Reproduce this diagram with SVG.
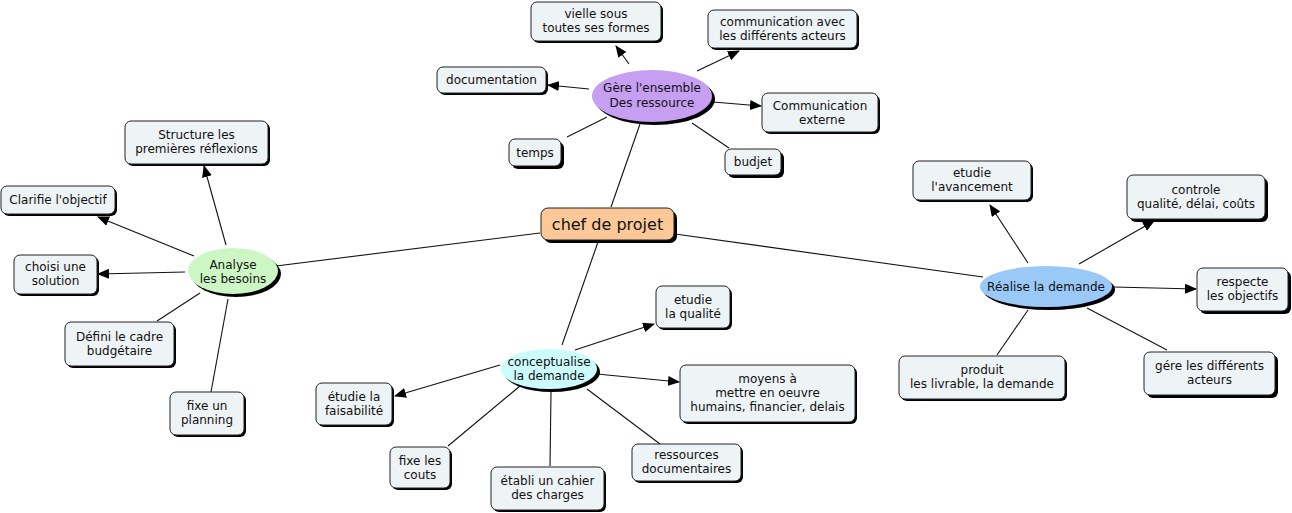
<svg xmlns="http://www.w3.org/2000/svg" width="1292" height="513" viewBox="0 0 1292 513">
<defs>
<marker id="arr" markerWidth="12" markerHeight="10" refX="11" refY="5" orient="auto" markerUnits="userSpaceOnUse">
<path d="M0,0 L12,5 L0,10 Z" fill="#000"/>
</marker>
<style>
.box{fill:#eef3f5;stroke:#222;stroke-width:1}
.sh{fill:#000}
.t{font-family:"DejaVu Sans",Verdana,sans-serif;font-size:12px;fill:#111;text-anchor:middle}
.big{font-size:16px}
.c{stroke:#111;stroke-width:1.1;fill:none}
.a{marker-end:url(#arr)}
.el{stroke:none}
</style>
</defs>
<rect width="1292" height="513" fill="#fff"/>
<g id="connectors">
<line class="c" x1="611" y1="207" x2="640" y2="124"/>
<line class="c" x1="540" y1="233" x2="276" y2="266"/>
<line class="c" x1="598" y1="242" x2="562" y2="345"/>
<line class="c" x1="675" y1="234" x2="983" y2="277"/>
<line class="c a" x1="629" y1="64" x2="616" y2="46"/>
<line class="c a" x1="697" y1="71" x2="739" y2="51"/>
<line class="c a" x1="589" y1="89" x2="548" y2="85"/>
<line class="c a" x1="713" y1="102" x2="761" y2="106"/>
<line class="c" x1="607" y1="117" x2="567" y2="137"/>
<line class="c" x1="692" y1="123" x2="729" y2="148"/>
<line class="c a" x1="226" y1="245" x2="204" y2="166"/>
<line class="c a" x1="194" y1="256" x2="98" y2="217"/>
<line class="c a" x1="185" y1="272" x2="98" y2="274"/>
<line class="c" x1="200" y1="293" x2="157" y2="321"/>
<line class="c" x1="228" y1="299" x2="211" y2="392"/>
<line class="c a" x1="575" y1="350" x2="654" y2="324"/>
<line class="c a" x1="597" y1="374" x2="679" y2="382"/>
<line class="c a" x1="500" y1="365" x2="395" y2="396"/>
<line class="c" x1="520" y1="386" x2="448" y2="446"/>
<line class="c" x1="551" y1="392" x2="550" y2="466"/>
<line class="c" x1="587" y1="389" x2="660" y2="444"/>
<line class="c a" x1="1028" y1="263" x2="990" y2="205"/>
<line class="c a" x1="1079" y1="264" x2="1154" y2="221"/>
<line class="c a" x1="1113" y1="287" x2="1196" y2="289"/>
<line class="c" x1="1087" y1="308" x2="1167" y2="350"/>
<line class="c" x1="1028" y1="310" x2="997" y2="355"/>
</g>
<g id="chef">
<rect class="sh" x="544" y="211" width="133" height="32" rx="7"/>
<rect x="541" y="208" width="133" height="32" rx="7" fill="#fcc898" stroke="#222"/>
<text class="t big" x="607.5" y="230">chef de projet</text>
</g>
<g id="gere">
<ellipse class="sh" cx="655" cy="99" rx="60" ry="26"/>
<ellipse class="el" cx="652" cy="96" rx="60" ry="26" fill="#c69ff3"/>
<text class="t" x="652" y="92">Gère l'ensemble</text>
<text class="t" x="652" y="107">Des ressource</text>
</g>
<g id="analyse">
<ellipse class="sh" cx="236" cy="274" rx="45" ry="23"/>
<ellipse class="el" cx="233" cy="271" rx="45" ry="23" fill="#ccf7c4"/>
<text class="t" x="233" y="269">Analyse</text>
<text class="t" x="233" y="283">les besoins</text>
</g>
<g id="concept">
<ellipse class="sh" cx="552" cy="372" rx="48" ry="20"/>
<ellipse class="el" cx="549" cy="369" rx="48" ry="20" fill="#ccfbfc"/>
<text class="t" x="549" y="366">conceptualise</text>
<text class="t" x="549" y="380">la demande</text>
</g>
<g id="realise">
<ellipse class="sh" cx="1049" cy="289.5" rx="66" ry="20.5"/>
<ellipse class="el" cx="1046" cy="286.5" rx="66" ry="20.5" fill="#9ac9f8"/>
<text class="t" x="1046" y="291">Réalise la demande</text>
</g>
<g id="vielle">
<rect class="sh" x="533" y="4" width="130" height="39" rx="6"/>
<rect class="box" x="531" y="2" width="130" height="39" rx="6"/>
<text class="t" x="596" y="18">vielle sous</text>
<text class="t" x="596" y="32">toutes ses formes</text>
</g>
<g id="commavec">
<rect class="sh" x="710" y="12" width="149" height="38" rx="6"/>
<rect class="box" x="708" y="10" width="149" height="38" rx="6"/>
<text class="t" x="782.5" y="26">communication avec</text>
<text class="t" x="782.5" y="40">les différents acteurs</text>
</g>
<g id="documentation">
<rect class="sh" x="439" y="69" width="109" height="26" rx="6"/>
<rect class="box" x="437" y="67" width="109" height="26" rx="6"/>
<text class="t" x="491.5" y="84">documentation</text>
</g>
<g id="commext">
<rect class="sh" x="764" y="95" width="116" height="39" rx="6"/>
<rect class="box" x="762" y="93" width="116" height="39" rx="6"/>
<text class="t" x="820" y="110">Communication</text>
<text class="t" x="822" y="124">externe</text>
</g>
<g id="temps">
<rect class="sh" x="512" y="142" width="52" height="27" rx="6"/>
<rect class="box" x="509" y="139" width="52" height="27" rx="6"/>
<text class="t" x="535" y="157">temps</text>
</g>
<g id="budjet">
<rect class="sh" x="728" y="152" width="56" height="26" rx="6"/>
<rect class="box" x="725" y="149" width="56" height="26" rx="6"/>
<text class="t" x="753" y="166">budjet</text>
</g>
<g id="structure">
<rect class="sh" x="127" y="123" width="143" height="43" rx="6"/>
<rect class="box" x="125" y="121" width="143" height="43" rx="6"/>
<text class="t" x="196.5" y="139">Structure les</text>
<text class="t" x="196.5" y="153">premières réflexions</text>
</g>
<g id="clarifie">
<rect class="sh" x="3" y="188" width="114" height="28" rx="6"/>
<rect class="box" x="1" y="186" width="114" height="28" rx="6"/>
<text class="t" x="58" y="204">Clarifie l'objectif</text>
</g>
<g id="choisi">
<rect class="sh" x="16" y="257" width="83" height="39" rx="6"/>
<rect class="box" x="14" y="255" width="83" height="39" rx="6"/>
<text class="t" x="55.5" y="271">choisi une</text>
<text class="t" x="55.5" y="285">solution</text>
</g>
<g id="defini">
<rect class="sh" x="67" y="324" width="109" height="44" rx="6"/>
<rect class="box" x="65" y="322" width="109" height="44" rx="6"/>
<text class="t" x="119.5" y="341">Défini le cadre</text>
<text class="t" x="119.5" y="355">budgétaire</text>
</g>
<g id="planning">
<rect class="sh" x="172" y="394" width="74" height="43" rx="6"/>
<rect class="box" x="170" y="392" width="74" height="43" rx="6"/>
<text class="t" x="207" y="410">fixe un</text>
<text class="t" x="207" y="424">planning</text>
</g>
<g id="qualite">
<rect class="sh" x="658" y="288" width="74" height="42" rx="6"/>
<rect class="box" x="656" y="286" width="74" height="42" rx="6"/>
<text class="t" x="693" y="304">etudie</text>
<text class="t" x="693" y="318">la qualité</text>
</g>
<g id="moyens">
<rect class="sh" x="682" y="367" width="175" height="57" rx="6"/>
<rect class="box" x="680" y="365" width="175" height="57" rx="6"/>
<text class="t" x="767.5" y="383">moyens à</text>
<text class="t" x="767.5" y="397">mettre en oeuvre</text>
<text class="t" x="767.5" y="411">humains, financier, delais</text>
</g>
<g id="faisabilite">
<rect class="sh" x="318" y="385" width="76" height="42" rx="6"/>
<rect class="box" x="316" y="383" width="76" height="42" rx="6"/>
<text class="t" x="354" y="401">étudie la</text>
<text class="t" x="354" y="415">faisabilité</text>
</g>
<g id="couts">
<rect class="sh" x="392" y="449" width="60" height="41" rx="6"/>
<rect class="box" x="390" y="447" width="60" height="41" rx="6"/>
<text class="t" x="420" y="465">fixe les</text>
<text class="t" x="420" y="479">couts</text>
</g>
<g id="cahier">
<rect class="sh" x="493" y="469" width="113" height="43" rx="6"/>
<rect class="box" x="491" y="467" width="113" height="43" rx="6"/>
<text class="t" x="547.5" y="485">établi un cahier</text>
<text class="t" x="547.5" y="499">des charges</text>
</g>
<g id="ressources">
<rect class="sh" x="634" y="446" width="109" height="37" rx="6"/>
<rect class="box" x="632" y="444" width="109" height="37" rx="6"/>
<text class="t" x="686.5" y="459">ressources</text>
<text class="t" x="686.5" y="473">documentaires</text>
</g>
<g id="avancement">
<rect class="sh" x="915" y="163" width="118" height="39" rx="6"/>
<rect class="box" x="913" y="161" width="118" height="39" rx="6"/>
<text class="t" x="972" y="177">etudie</text>
<text class="t" x="972" y="191">l'avancement</text>
</g>
<g id="controle">
<rect class="sh" x="1130" y="178" width="138" height="44" rx="6"/>
<rect class="box" x="1127" y="175" width="138" height="44" rx="6"/>
<text class="t" x="1196" y="194">controle</text>
<text class="t" x="1196" y="208">qualité, délai, coûts</text>
</g>
<g id="respecte">
<rect class="sh" x="1200" y="271" width="91" height="43" rx="6"/>
<rect class="box" x="1197" y="268" width="91" height="43" rx="6"/>
<text class="t" x="1242.5" y="286">respecte</text>
<text class="t" x="1242.5" y="300">les objectifs</text>
</g>
<g id="gere_acteurs">
<rect class="sh" x="1147" y="355" width="131" height="43" rx="6"/>
<rect class="box" x="1144" y="352" width="131" height="43" rx="6"/>
<text class="t" x="1209.5" y="370">gére les différents</text>
<text class="t" x="1209.5" y="384">acteurs</text>
</g>
<g id="produit">
<rect class="sh" x="901" y="358" width="166" height="43" rx="6"/>
<rect class="box" x="899" y="356" width="166" height="43" rx="6"/>
<text class="t" x="982" y="374">produit</text>
<text class="t" x="982" y="388">les livrable, la demande</text>
</g>
</svg>
